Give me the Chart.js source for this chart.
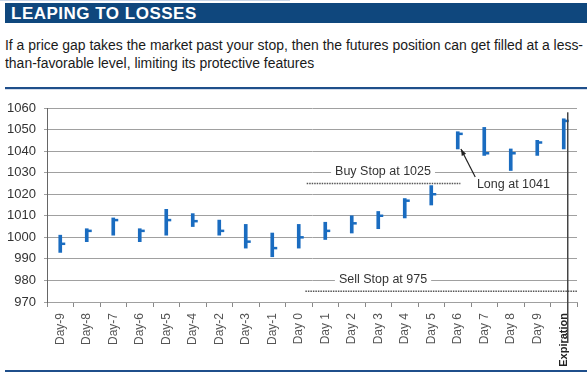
<!DOCTYPE html>
<html lang="en">
<head>
  <meta charset="UTF-8" />
  <title>Leaping to Losses</title>
  <script src="https://cdn.jsdelivr.net/npm/chart.js"></script>
  <style>
    body { margin: 0; background: #fff; width: 587px; height: 377px; overflow: hidden; position: relative; font-family: "Liberation Sans", Arial, sans-serif; }
    #topline { position: absolute; left: 0; top: 0; width: 290px; height: 1px; background: #c9d6e8; }
    #head { position: absolute; left: 5px; top: 3px; width: 576px; height: 20px; padding-left: 6px; background: #0f477d; color: #fff; font-weight: bold; font-size: 17px; line-height: 21px; letter-spacing: 0.5px; }
    #sub { position: absolute; left: 5px; top: 36px; font-size: 14px; line-height: 18px; color: #1a1a1a; white-space: nowrap; }
    #sub span { display: block; transform-origin: 0 50%; }
    #sep { position: absolute; left: 5px; top: 87px; width: 582px; height: 2px; background: #1f4f8b; border-bottom: 1px solid #d3dceb; }
    #bottom { position: absolute; left: 5px; top: 370px; width: 582px; height: 2px; background: #1f4f8b; }
    #wrap { position: absolute; left: 0; top: 90px; width: 587px; height: 280px; }
  </style>
</head>
<body>
  <div id="topline"></div>
  <div id="head">LEAPING TO LOSSES</div>
  <div id="sub"><span id="l1">If a price gap takes the market past your stop, then the futures position can get filled at a less-</span><span id="l2">than-favorable level, limiting its protective features</span></div>
  <div id="sep"></div>
  <div id="wrap"><canvas id="chart"></canvas></div>
  <div id="bottom"></div>

  <script>
    const days = ['Day-9', 'Day-8', 'Day-7', 'Day-6', 'Day-5', 'Day-4', 'Day-2', 'Day-3', 'Day-1', 'Day 0',
                  'Day 1', 'Day 2', 'Day 3', 'Day 4', 'Day 5', 'Day 6', 'Day 7', 'Day 8', 'Day 9', 'Expiration'];
    const highs  = [1001, 1004, 1009, 1004, 1013, 1011, 1008, 1006, 1002, 1006, 1007, 1010, 1012, 1018, 1024, 1049, 1051, 1041, 1045, 1055];
    const lows   = [993, 998, 1001, 998, 1001, 1005, 1001, 995, 991, 995, 999, 1002, 1004, 1009, 1015, 1041, 1038, 1031, 1038, 1041];
    const closes = [997, 1003, 1008, 1003, 1008, 1007.5, 1003, 998, 995, 1000, 1003, 1006.5, 1010, 1017, 1020, 1048, 1039, 1039, 1044, 1054];
    const stopLevels = [1025, 975];
    const stopLabels = ['Buy Stop at 1025', 'Sell Stop at 975'];
    const fillLabel = 'Long at 1041';
    const fillPrice = 1041;
    const yTicks = [970, 980, 990, 1000, 1010, 1020, 1030, 1040, 1050, 1060];

    const BLUE = '#1a6cc0';

    // squeeze the subtitle lines to the width of the original (condensed face)
    const l1 = document.getElementById('l1'), l2 = document.getElementById('l2');
    const k = 578 / l1.getBoundingClientRect().width;
    l1.style.transform = l2.style.transform = 'scaleX(' + k + ')';

    // draws close ticks, stop lines, the fill arrow and the expiration line
    const extras = {
      id: 'extras',
      afterDatasetsDraw(chart) {
        const c = chart.ctx;
        const x = chart.scales.x, y = chart.scales.y;
        const area = chart.chartArea;
        c.save();

        // close ticks
        c.strokeStyle = BLUE;
        c.lineWidth = 2.5;
        closes.forEach((v, i) => {
          const px = x.getPixelForValue(i), py = y.getPixelForValue(v);
          c.beginPath();
          c.moveTo(px + 1, py);
          c.lineTo(px + 5, py);
          c.stroke();
        });

        // stop lines (dotted)
        const spans = [[9.3, 15.1], [9.25, 19.5]];
        c.strokeStyle = '#555';
        c.lineWidth = 1.5;
        c.setLineDash([1.5, 1]);
        stopLevels.forEach((lvl, k) => {
          const py = y.getPixelForValue(lvl);
          c.beginPath();
          c.moveTo(x.getPixelForValue(spans[k][0]), py);
          c.lineTo(x.getPixelForValue(spans[k][1]), py);
          c.stroke();
        });
        c.setLineDash([]);

        // stop labels sitting on the grid line above
        c.font = '12.5px "Liberation Sans", Arial, sans-serif';
        c.textAlign = 'center';
        c.textBaseline = 'middle';
        stopLabels.forEach((t, k) => {
          const px = x.getPixelForValue(12.18);
          const py = y.getPixelForValue(stopLevels[k] + 5) - 1;
          const w = c.measureText(t).width + 8;
          c.fillStyle = '#fff';
          c.fillRect(px - w / 2, py - 7, w, 14);
          c.fillStyle = '#333';
          c.fillText(t, px, py);
        });

        // fill annotation with arrow
        const ax0 = x.getPixelForValue(15.66), ay0 = y.getPixelForValue(1028);
        const ax1 = x.getPixelForValue(15.12), ay1 = y.getPixelForValue(fillPrice);
        c.strokeStyle = '#222';
        c.lineWidth = 1.2;
        c.beginPath();
        c.moveTo(ax0, ay0);
        c.lineTo(ax1, ay1);
        c.stroke();
        const ang = Math.atan2(ay1 - ay0, ax1 - ax0);
        c.fillStyle = '#222';
        c.beginPath();
        c.moveTo(ax1, ay1);
        c.lineTo(ax1 - 7 * Math.cos(ang - 0.35), ay1 - 7 * Math.sin(ang - 0.35));
        c.lineTo(ax1 - 7 * Math.cos(ang + 0.35), ay1 - 7 * Math.sin(ang + 0.35));
        c.closePath();
        c.fill();
        c.fillStyle = '#333';
        c.fillText(fillLabel, x.getPixelForValue(17.1), y.getPixelForValue(1024.3));

        // expiration line
        const ex = x.getPixelForValue(19.15);
        c.strokeStyle = '#444';
        c.lineWidth = 1.5;
        c.beginPath();
        c.moveTo(ex, y.getPixelForValue(1058));
        c.lineTo(ex, area.bottom + 41);
        c.stroke();

        c.restore();
      }
    };

    new Chart(document.getElementById('chart').getContext('2d'), {
      type: 'bar',
      data: {
        labels: days,
        datasets: [{
          label: 'Range',
          data: lows.map((l, i) => [l, highs[i]]),
          backgroundColor: BLUE,
          borderWidth: 0,
          barThickness: 3
        }]
      },
      options: {
        responsive: true,
        maintainAspectRatio: false,
        animation: false,
        layout: { padding: { top: 18, right: 10, left: 0, bottom: 0 } },
        plugins: { legend: { display: false }, tooltip: { enabled: false } },
        scales: {
          x: {
            afterFit: s => { s.height = 68; },
            grid: { drawOnChartArea: false, drawTicks: true, tickLength: 5, color: '#888', offset: true },
            border: { color: '#a0a0a0', width: 1 },
            ticks: {
              minRotation: 90, maxRotation: 90, autoSkip: false, padding: 6,
              color: ctx => ctx.index === 19 ? '#222' : '#555',
              font: ctx => ({ family: '"Liberation Sans", Arial, sans-serif', size: ctx.index === 19 ? 11 : 12, weight: ctx.index === 19 ? 'bold' : 'normal' })
            }
          },
          y: {
            min: 970, max: 1060,
            afterFit: s => { s.width = 47; },
            afterBuildTicks: s => { s.ticks = yTicks.map(v => ({ value: v })); },
            grid: { color: '#a0a0a0', lineWidth: 1, tickLength: 3 },
            border: { color: '#666', width: 1 },
            ticks: {
              padding: 8, color: '#333',
              font: { family: '"Liberation Sans", Arial, sans-serif', size: 13 },
              callback: v => String(v)
            }
          }
        }
      },
      plugins: [extras]
    });
  </script>
</body>
</html>
